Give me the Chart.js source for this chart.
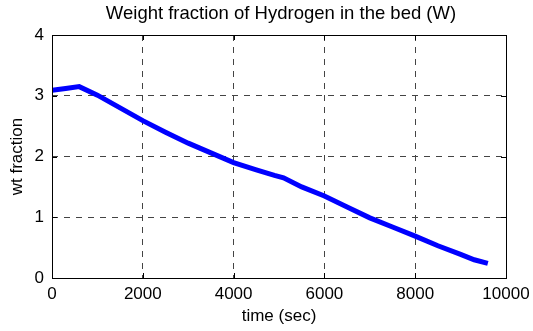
<!DOCTYPE html>
<html>
<head>
<meta charset="utf-8">
<script src="https://cdn.jsdelivr.net/npm/chart.js@4/dist/chart.umd.min.js"></script>
<style>
  html, body { margin:0; padding:0; background:#fff; }
  #wrap { width:533px; height:331px; position:relative; }
</style>
</head>
<body>
<div id="wrap"><canvas id="c" width="533" height="331"></canvas></div>
<script>
// values
const timeSec    = [0, 300, 600, 1000, 1500, 2000, 2500, 3000, 3500, 4000, 4500, 4900, 5100, 5500, 6000, 6500, 7000, 7500, 8000, 8500, 9000, 9300, 9600];
const wtFraction = [3.09, 3.12, 3.15, 3.01, 2.80, 2.59, 2.40, 2.22, 2.06, 1.90, 1.78, 1.69, 1.65, 1.50, 1.35, 1.17, 0.99, 0.84, 0.69, 0.53, 0.39, 0.30, 0.24];
const xTicks = [0, 2000, 4000, 6000, 8000, 10000];
const yTicks = [0, 1, 2, 3, 4];
const chartTitle = 'Weight fraction of Hydrogen in the bed (W)';

const FONT = "'Liberation Sans', Arial, sans-serif";

// title centred over the axes (matlab style), not over the whole canvas
const axesTitle = {
  id: 'axesTitle',
  afterDraw(chart){
    const {ctx, chartArea:a} = chart;
    ctx.save();
    ctx.fillStyle = '#000';
    ctx.font = `18.5px ${FONT}`;
    ctx.textAlign = 'center';
    ctx.textBaseline = 'middle';
    ctx.fillText(chartTitle, (a.left + a.right) / 2 + 2, 14);
    ctx.restore();
  }
};

// box with inward tick marks on all four sides
const boxTicks = {
  id: 'boxTicks',
  afterDraw(chart){
    const {ctx, chartArea:a, scales:{x, y}} = chart;
    const len = 5;
    ctx.save();
    ctx.strokeStyle = '#000';
    ctx.lineWidth = 1;
    ctx.beginPath();
    xTicks.forEach(v => {
      const px = Math.round(x.getPixelForValue(v)) + 0.5;
      ctx.moveTo(px, a.bottom); ctx.lineTo(px, a.bottom - len);
      ctx.moveTo(px, a.top); ctx.lineTo(px, a.top + len);
    });
    yTicks.forEach(v => {
      const py = Math.round(y.getPixelForValue(v)) + 0.5;
      ctx.moveTo(a.left, py); ctx.lineTo(a.left + len, py);
      ctx.moveTo(a.right, py); ctx.lineTo(a.right - len, py);
    });
    ctx.stroke();
    ctx.strokeRect(Math.round(a.left) + 0.5, Math.round(a.top) + 0.5, Math.round(a.right - a.left), Math.round(a.bottom - a.top));
    ctx.restore();
  }
};

new Chart(document.getElementById('c').getContext('2d'), {
  type: 'line',
  data: {
    datasets: [{
      data: timeSec.map((t,i) => ({x:t, y:wtFraction[i]})),
      borderColor: '#0000ff',
      borderWidth: 5,
      pointRadius: 0,
      tension: 0,
      fill: false
    }]
  },
  options: {
    responsive: false,
    animation: false,
    layout: { padding: { left:0, right:27, top:35, bottom:0 } },
    plugins: {
      legend: { display:false },
      tooltip: { enabled:false },
      title: { display:false }
    },
    scales: {
      x: {
        type: 'linear', min: 0, max: 10000,
        afterBuildTicks: s => { s.ticks = xTicks.map(v => ({value:v})); },
        afterFit: s => { s.height = 53; s.paddingLeft = 0; s.paddingRight = 0; },
        grid: { color: '#444', lineWidth: 1, drawTicks: false },
        border: { display: false, dash: [6,6] },
        ticks: { color:'#000', font:{ family: FONT, size:17 }, padding: 6, maxRotation: 0, callback: v => String(v) },
        title: { display:true, text:'time (sec)', color:'#000', font:{ family: FONT, size:17 }, padding: { top:0, bottom:4 } }
      },
      y: {
        type: 'linear', min: 0, max: 4,
        afterBuildTicks: s => { s.ticks = yTicks.map(v => ({value:v})); },
        afterFit: s => { s.width = 52; s.paddingTop = 0; s.paddingBottom = 0; },
        grid: { color: '#444', lineWidth: 1, drawTicks: false },
        border: { display: false, dash: [6,6] },
        ticks: { color:'#000', font:{ family: FONT, size:17 }, padding: 8, callback: v => String(v) },
        title: { display:true, text:'wt fraction', color:'#000', font:{ family: FONT, size:17 }, padding: { top:7, bottom:0 } }
      }
    }
  },
  plugins: [boxTicks, axesTitle]
});
</script>
</body>
</html>
